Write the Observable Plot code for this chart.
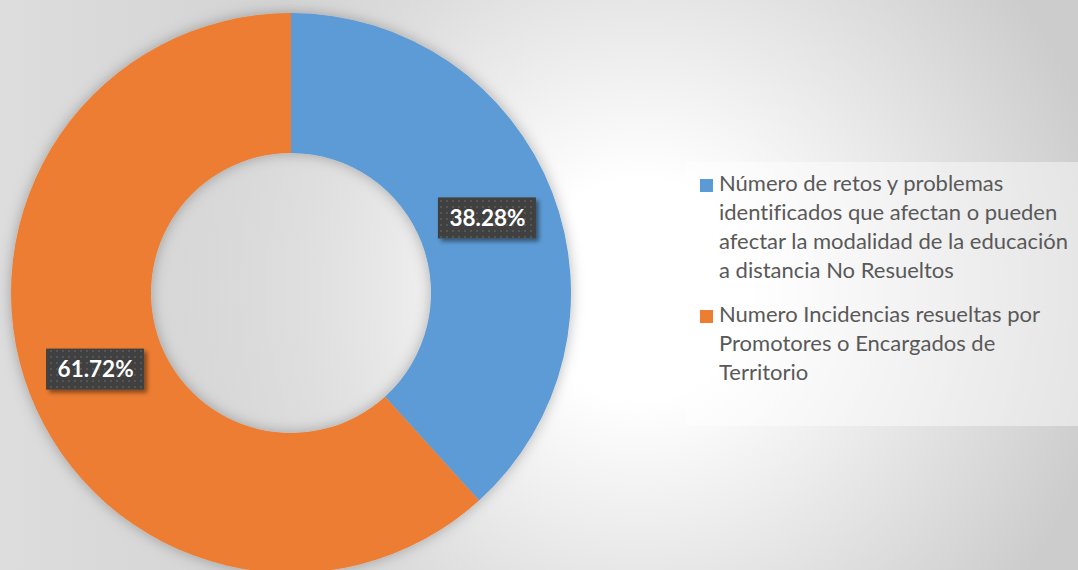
<!DOCTYPE html>
<html><head><meta charset="utf-8">
<script src="https://cdn.jsdelivr.net/npm/d3@7"></script>
<script src="https://cdn.jsdelivr.net/npm/@observablehq/plot@0.6"></script>
<style>
html,body{margin:0;padding:0;}
body{width:1078px;height:570px;overflow:hidden;position:relative;
  background:
    linear-gradient(to right, rgba(221,221,221,1) 0px, rgba(221,221,221,0) 480px),
    radial-gradient(circle at 640px 290px, #ffffff 110px, #cccccc 480px);}
#chart{position:absolute;left:0;top:0;}
#legend{position:absolute;left:686px;top:162px;width:400px;height:264px;background:rgba(255,255,255,0.45);
  font-family:Lato, "Open Sans", sans-serif;font-size:22px;color:#595959;font-variant-ligatures:none;}
.item{position:absolute;left:0;white-space:pre;line-height:28.8px;}
.sw{position:absolute;left:14px;top:9px;width:13px;height:13px;}
.tx{position:absolute;left:33px;top:0;}
</style></head>
<body>
<div id="chart"></div>
<div id="legend"></div>
<script>
const categories = [
  "Número de retos y problemas identificados que afectan o pueden afectar la modalidad de la educación a distancia No Resueltos",
  "Numero Incidencias resueltas por Promotores o Encargados de Territorio"
];
const legendLines = [
  ["Número de retos y problemas", "identificados que afectan o pueden", "afectar la modalidad de la educación", "a distancia No Resueltos"],
  ["Numero Incidencias resueltas por", "Promotores o Encargados de", "Territorio"]
];
const values = [38.28, 61.72];
const colors = ["#5B9BD5", "#ED7D31"];

const data = categories.map((name, i) => ({name, value: values[i]}));
const arcs = d3.pie().sort(null).value(d => d.value)(data);
const slices = arcs.map(a => ({...a.data, startAngle: a.startAngle, endAngle: a.endAngle, mid: (a.startAngle + a.endAngle) / 2}));
const innerRatio = 0.5;
const labelRadius = 0.75;

const defs = () => {
  const d = d3.create("svg:defs");
  const p = d.append("pattern").attr("id", "dots").attr("width", 6).attr("height", 6).attr("patternUnits", "userSpaceOnUse");
  p.append("rect").attr("width", 6).attr("height", 6).attr("fill", "#404040");
  p.append("rect").attr("x", 2).attr("y", 2).attr("width", 2).attr("height", 2).attr("fill", "#555555");
  const f = d.append("filter").attr("id", "donutShadow").attr("x", "-10%").attr("y", "-10%").attr("width", "120%").attr("height", "120%");
  f.append("feDropShadow").attr("dx", 0).attr("dy", 0).attr("stdDeviation", 7).attr("flood-color", "#000").attr("flood-opacity", 0.28);
  const f2 = d.append("filter").attr("id", "lblShadow").attr("x", "-20%").attr("y", "-30%").attr("width", "150%").attr("height", "170%");
  f2.append("feDropShadow").attr("dx", 3).attr("dy", 3).attr("stdDeviation", 2).attr("flood-color", "#000").attr("flood-opacity", 0.45);
  return d.node();
};

const donut = Plot.dot(slices, {
  x: () => 0, y: () => 0, fill: "name",
  render(index, scales, values) {
    const cx = scales.x(0), cy = scales.y(0);
    const R = scales.x(1) - scales.x(0);
    const arc = d3.arc().innerRadius(R * innerRatio).outerRadius(R);
    const g = d3.create("svg:g").attr("filter", "url(#donutShadow)").attr("transform", `translate(${cx},${cy})`);
    g.selectAll("path").data(index).join("path")
      .attr("d", i => arc(slices[i]))
      .attr("fill", i => values.fill[i]);
    return g.node();
  }
});

const lx = d => labelRadius * Math.sin(d.mid);
const ly = d => labelRadius * Math.cos(d.mid);

const chart = Plot.plot({
  width: 1078, height: 570,
  margin: 0,
  style: {background: "transparent"},
  x: {domain: [-1, 1], range: [11, 571], axis: null},
  y: {domain: [-1, 1], range: [573, 13], axis: null},
  color: {domain: categories, range: colors},
  marks: [
    defs,
    donut,
    Plot.rect(slices, {x1: lx, x2: lx, y1: ly, y2: ly, insetLeft: -49, insetRight: -49, insetTop: -20, insetBottom: -21,
      fill: "#404040"}),
    Plot.text(slices, {x: lx, y: ly, text: d => d.value.toFixed(2) + "%", fill: "white", fontWeight: "bold",
      fontSize: 22.5, fontFamily: "Lato", dy: 1})
  ]
});
d3.select(chart).selectAll("g[aria-label=rect]").attr("filter", "url(#lblShadow)")
  .selectAll("rect").attr("fill", "url(#dots)");
document.getElementById("chart").appendChild(chart);

const legend = d3.select("#legend");
const tops = [7.3, 138.1];
legendLines.forEach((lines, i) => {
  const it = legend.append("div").attr("class", "item").style("top", tops[i] + "px");
  it.append("div").attr("class", "sw").style("background", colors[i]).style("top", "9.7px");
  it.append("div").attr("class", "tx").text(lines.join("\n"));
});
</script>
</body></html>
